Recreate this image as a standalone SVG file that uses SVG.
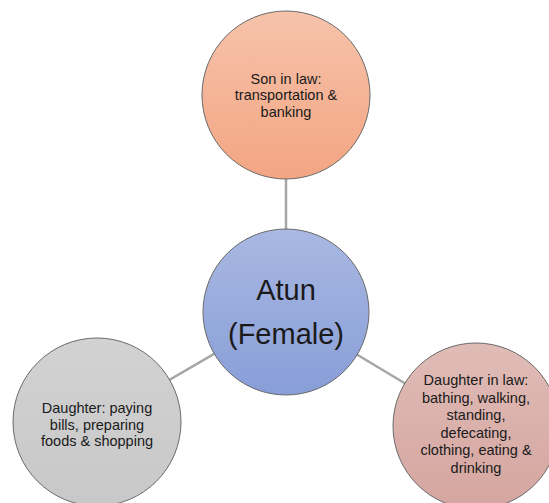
<svg xmlns="http://www.w3.org/2000/svg" width="549" height="503" viewBox="0 0 549 503">
  <defs>
    <linearGradient id="gTop" x1="0" y1="0" x2="0" y2="1">
      <stop offset="0" stop-color="#f6c3ab"/>
      <stop offset="1" stop-color="#f3a582"/>
    </linearGradient>
    <linearGradient id="gCenter" x1="0" y1="0" x2="0" y2="1">
      <stop offset="0" stop-color="#a9b8e2"/>
      <stop offset="1" stop-color="#889ed8"/>
    </linearGradient>
    <linearGradient id="gLeft" x1="0" y1="0" x2="0" y2="1">
      <stop offset="0" stop-color="#d2d2d2"/>
      <stop offset="1" stop-color="#c8c8c8"/>
    </linearGradient>
    <linearGradient id="gRight" x1="0" y1="0" x2="0" y2="1">
      <stop offset="0" stop-color="#e0bcb7"/>
      <stop offset="1" stop-color="#d5a59f"/>
    </linearGradient>
  </defs>
  <style>
    .node { stroke: #6a6a6a; stroke-width: 1; }
    .conn { stroke: #a6a6a6; stroke-width: 2.5; fill: none; }
    .lbl { font-family: "Liberation Sans", Arial, sans-serif; font-size: 14.5px; fill: #1a1a1a; text-anchor: middle; }
    .big { font-family: "Liberation Sans", Arial, sans-serif; font-size: 29px; fill: #1a1a1a; text-anchor: middle; }
  </style>
  <rect width="549" height="503" fill="#ffffff"/>

  <g id="connectors">
    <line class="conn" x1="286" y1="95" x2="286" y2="312"/>
    <line class="conn" x1="286" y1="312" x2="97" y2="422"/>
    <line class="conn" x1="286" y1="312" x2="476" y2="426"/>
  </g>

  <g id="son-in-law">
    <circle class="node" cx="286" cy="95" r="84" fill="url(#gTop)"/>
    <text class="lbl" x="286" y="83.5">Son in law:</text>
    <text class="lbl" x="286" y="100">transportation &amp;</text>
    <text class="lbl" x="286" y="116.5">banking</text>
  </g>

  <g id="atun">
    <circle class="node" cx="286" cy="312" r="83" fill="url(#gCenter)"/>
    <text class="big" x="286" y="300">Atun</text>
    <text class="big" x="286" y="344">(Female)</text>
  </g>

  <g id="daughter">
    <circle class="node" cx="97" cy="422" r="84" fill="url(#gLeft)"/>
    <text class="lbl" x="97" y="413">Daughter: paying</text>
    <text class="lbl" x="97" y="430">bills, preparing</text>
    <text class="lbl" x="97" y="446">foods &amp; shopping</text>
  </g>

  <g id="daughter-in-law">
    <circle class="node" cx="476" cy="426" r="83" fill="url(#gRight)"/>
    <text class="lbl" x="476" y="385">Daughter in law:</text>
    <text class="lbl" x="476" y="402.5">bathing, walking,</text>
    <text class="lbl" x="476" y="420">standing,</text>
    <text class="lbl" x="476" y="437.5">defecating,</text>
    <text class="lbl" x="476" y="455">clothing, eating &amp;</text>
    <text class="lbl" x="476" y="472.5">drinking</text>
  </g>
</svg>
